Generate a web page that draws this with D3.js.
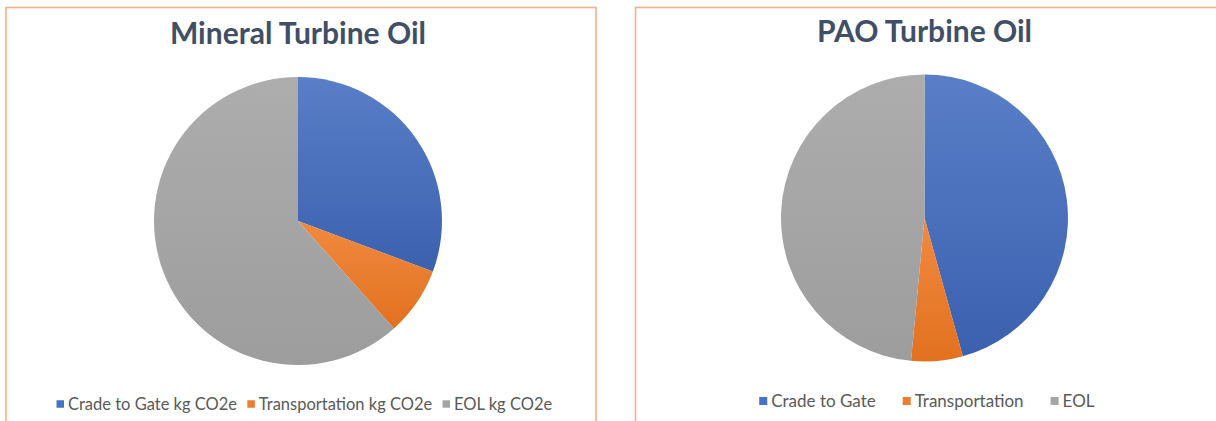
<!DOCTYPE html>
<html>
<head>
<meta charset="utf-8">
<script src="https://cdn.jsdelivr.net/npm/d3@7"></script>
<style>
  html, body { margin: 0; padding: 0; background: #fff; }
  svg { display: block; }
</style>
</head>
<body>
<svg id="chart" width="1216" height="421"></svg>
<script>
// Carbon footprint shares for two turbine oils
const mineralTitle = "Mineral Turbine Oil";
const mineralCategories = ["Crade to Gate kg CO2e", "Transportation kg CO2e", "EOL kg CO2e"];
const mineralValues = [30.7, 7.7, 61.6];

const paoTitle = "PAO Turbine Oil";
const paoCategories = ["Crade to Gate", "Transportation", "EOL"];
const paoValues = [45.7, 5.8, 48.5];

const sliceColors = ["#4472C4", "#ED7D31", "#A5A5A5"];
// light/dark ends of the vertical shading on each slice
const shadeTop = ["#5A7FC8", "#F08A40", "#ADADAD"];
const shadeBottom = ["#3B60AE", "#E2711F", "#9D9D9D"];

const svg = d3.select("#chart");
const defs = svg.append("defs");

sliceColors.forEach((c, i) => {
  const g = defs.append("linearGradient")
    .attr("id", "shade" + i)
    .attr("gradientUnits", "objectBoundingBox")
    .attr("x1", 0).attr("y1", 0).attr("x2", 0).attr("y2", 1);
  g.append("stop").attr("offset", "0%").attr("stop-color", shadeTop[i]);
  g.append("stop").attr("offset", "100%").attr("stop-color", shadeBottom[i]);
});

function drawPanel(cfg) {
  const g = svg.append("g");

  // panel frame
  g.append("rect")
    .attr("x", cfg.frame[0]).attr("y", cfg.frame[1])
    .attr("width", cfg.frame[2]).attr("height", cfg.frame[3])
    .attr("fill", "none")
    .attr("stroke", "#F4AE8C")
    .attr("stroke-width", 1.6);

  // title
  g.append("text")
    .attr("x", cfg.cx).attr("y", cfg.titleY)
    .attr("text-anchor", "middle")
    .attr("font-family", "Lato, 'Open Sans', sans-serif")
    .attr("font-weight", "bold")
    .attr("font-size", cfg.titleSize)
    .attr("fill", "#404E66")
    .text(cfg.title);

  // pie
  const pie = d3.pie().sort(null).value(d => d);
  const arc = d3.arc().innerRadius(0).outerRadius(cfg.r);
  const color = d3.scaleOrdinal()
    .domain(d3.range(cfg.values.length))
    .range(d3.range(sliceColors.length).map(i => "url(#shade" + i + ")"));

  const pg = g.append("g").attr("transform", `translate(${cfg.cx},${cfg.cy})`);
  pg.selectAll("path")
    .data(pie(cfg.values))
    .join("path")
    .attr("d", arc)
    .attr("fill", (d, i) => color(i))
    .attr("stroke", "none");

  // legend
  const lg = g.append("g");
  const items = lg.selectAll("g")
    .data(cfg.categories)
    .join("g");
  items.append("rect")
    .attr("width", cfg.sw).attr("height", cfg.sw)
    .attr("y", -cfg.sw / 2)
    .attr("fill", (d, i) => sliceColors[i]);
  items.append("text")
    .attr("x", cfg.sw + 4)
    .attr("dy", "0.35em")
    .attr("font-family", "Lato, 'Open Sans', sans-serif")
    .attr("font-size", cfg.legendSize)
    .attr("fill", "#595959")
    .text(d => d);

  // lay out legend items in a centered row
  const widths = [];
  items.each(function () { widths.push(this.getBBox().width); });
  const total = d3.sum(widths) + cfg.gap * (widths.length - 1);
  let x = cfg.legendCx - total / 2;
  items.attr("transform", (d, i) => {
    const t = `translate(${x},${cfg.legendY})`;
    x += widths[i] + cfg.gap;
    return t;
  });
}

drawPanel({
  frame: [6, 7.5, 590, 430],
  title: mineralTitle, titleY: 44, titleSize: 30,
  cx: 298, cy: 221, r: 144,
  values: mineralValues, categories: mineralCategories,
  legendCx: 304.5, legendY: 404, legendSize: 16.5, sw: 7.5, gap: 10
});

drawPanel({
  frame: [635.5, 7.5, 600, 430],
  title: paoTitle, titleY: 42, titleSize: 30,
  cx: 924.5, cy: 218, r: 143.5,
  values: paoValues, categories: paoCategories,
  legendCx: 927, legendY: 401, legendSize: 17, sw: 8, gap: 27
});
</script>
</body>
</html>
